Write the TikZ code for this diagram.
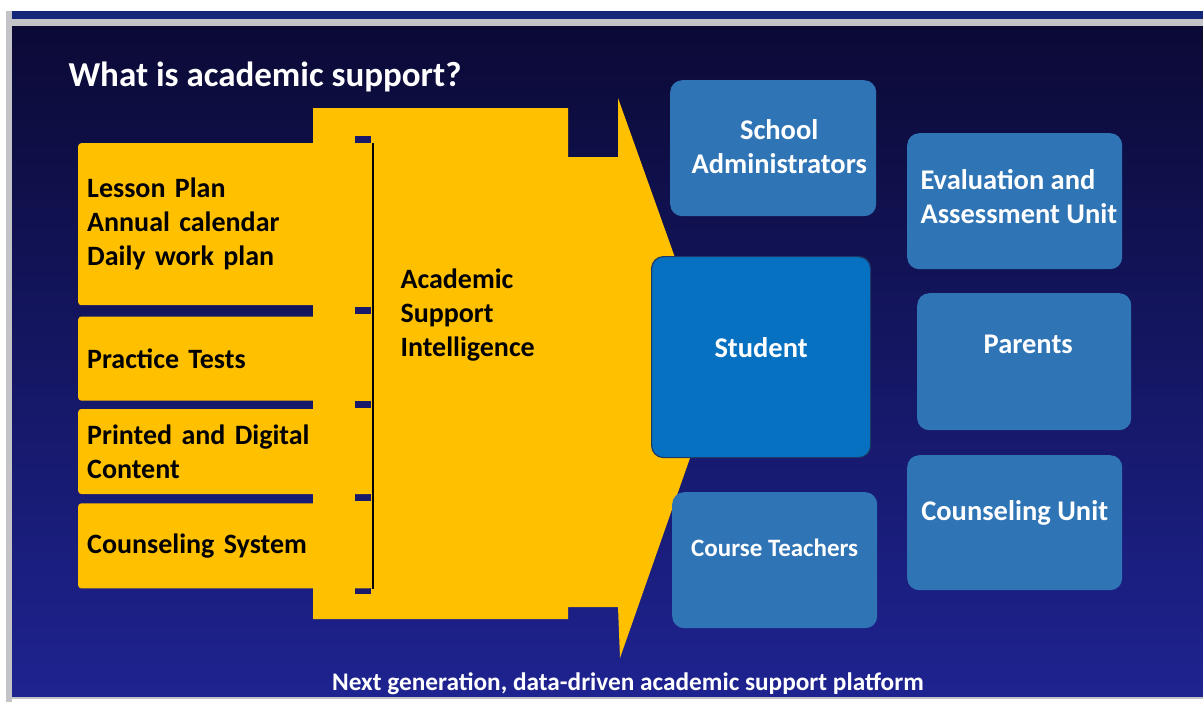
\documentclass[tikz,border=0pt]{standalone}
\usepackage{fontspec}
\setmainfont{Carlito}
\usepackage{xcolor}
\usepackage{tikz}
\usetikzlibrary{positioning,calc}

\definecolor{slideTop}{HTML}{0B0A36}
\definecolor{slideBot}{HTML}{1E2390}
\definecolor{bandNavy}{HTML}{14287A}
\definecolor{frameGray}{HTML}{C4C4C8}
\definecolor{goldFill}{HTML}{FFC000}
\definecolor{gapNavy}{HTML}{1A1868}
\definecolor{unitBlue}{HTML}{2F74B5}
\definecolor{studentBlue}{HTML}{0671C0}
\definecolor{studentEdge}{HTML}{1B3A68}

\begin{document}
\begin{tikzpicture}[
    x=1pt, y=-1pt,
    toolbox/.style={rectangle, rounded corners=3pt, fill=goldFill, anchor=north west, text width=276pt, inner xsep=9pt, inner ysep=0pt, align=left, text=black, font=\fontsize{28}{34}\selectfont\bfseries},
    unitbox/.style={rectangle, rounded corners=12pt, fill=unitBlue, anchor=north west, inner sep=0pt},
    unitlabel/.style={align=center, text=white, font=\fontsize{28.5}{34}\selectfont\bfseries}
]
\useasboundingbox (0,0) rectangle (1203,702);

% Frame and slide
\fill[white] (0,0) rectangle (1203,702);
\fill[frameGray] (6,11) rectangle (12,702);
\fill[bandNavy] (12,11) rectangle (1203,19);
\fill[frameGray] (12,19) rectangle (1203,26);
\shade[top color=slideTop, bottom color=slideBot] (12,26) rectangle (1203,697);
\fill[frameGray] (12,697) rectangle (1203,699);

% Title
\node[anchor=base west, text=white, font=\fontsize{35}{42}\selectfont\bfseries] (title) at (65,86) {What is academic support?};

% Big arrow
\fill[goldFill] (313,108) -- (568,108) -- (568,157) -- (618,157) -- (618,98) -- (718,378)
    -- (620,658) -- (618,607) -- (568,607) -- (568,619) -- (313,619) -- cycle;
\foreach \y in {136,307,401,494,587}
    \fill[gapNavy] (355,\y) rectangle (371,\y+7);

% Tools column
\node[toolbox, minimum height=162pt] (plans) at (78,143) {Lesson Plan\\Annual calendar\\Daily work plan};
\node[toolbox, minimum height=84pt, below=11pt of plans] (tests) {Practice Tests};
\node[toolbox, minimum height=85pt, below=8pt of tests] (content) {Printed and Digital\\Content};
\node[toolbox, minimum height=85pt, below=9pt of content] (system) {Counseling System};
\draw[line width=2pt] ([xshift=1pt]plans.north east) -- ([xshift=1pt]system.south east);

% Arrow label
\node[anchor=west, align=left, text=black, font=\fontsize{28}{34}\selectfont\bfseries] (asi) at (397,315) {Academic\\Support\\Intelligence};

% Stakeholders
\node[unitbox, minimum width=206pt, minimum height=136pt] (admins) at (670,80) {};
\node[unitbox, minimum width=215pt, minimum height=136pt] (eval) at (907,133) {};
\node[unitbox, fill=studentBlue, draw=studentEdge, line width=1.2pt, minimum width=219pt, minimum height=201pt] (student) at (651,256) {};
\node[unitbox, minimum width=214pt, minimum height=137pt] (parents) at (917,293) {};
\node[unitbox, minimum width=205pt, minimum height=136pt] (teachers) at (672,492) {};
\node[unitbox, minimum width=215pt, minimum height=135pt] (counsel) at (907,455) {};

\node[unitlabel] (adminsT) at ([xshift=6pt, yshift=2pt]admins.center) {School\\Administrators};
\node[unitlabel, align=left, anchor=west] (evalT) at ([xshift=10pt, yshift=5pt]eval.west) {Evaluation and\\Assessment Unit};
\node[unitlabel] (studentT) at ([yshift=10pt]student.center) {Student};
\node[unitlabel] (parentsT) at ([xshift=4pt, yshift=17pt]parents.center) {Parents};
\node[unitlabel, font=\fontsize{25}{30}\selectfont\bfseries] (teachersT) at ([yshift=12pt]teachers.center) {Course Teachers};
\node[unitlabel] (counselT) at ([yshift=10pt]counsel.center) {Counseling Unit};

% Footer
\node[text=white, font=\fontsize{25.3}{30}\selectfont\bfseries] (tagline) at (628,684) {Next generation, data-driven academic support platform};

\end{tikzpicture}
\end{document}
